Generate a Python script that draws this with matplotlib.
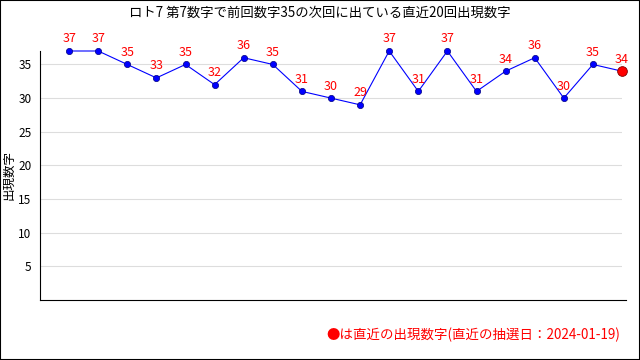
import matplotlib.pyplot as plt
from matplotlib.patches import Rectangle

plt.rcParams['font.family'] = ['Noto Sans CJK JP', 'DejaVu Sans']

title = "ロト7 第7数字で前回数字35の次回に出ている直近20回出現数字"
ylabel = "出現数字"
footer = "●は直近の出現数字(直近の抽選日：2024-01-19)"
values = [37, 37, 35, 33, 35, 32, 36, 35, 31, 30, 29, 37, 31, 37, 31, 34, 36, 30, 35, 34]
yticks = [5, 10, 15, 20, 25, 30, 35]

fig = plt.figure(figsize=(6.4, 3.6), dpi=100)
fig.patches.append(Rectangle((0, 0), 1, 1, transform=fig.transFigure,
                             fill=False, edgecolor='black', linewidth=1.5))
ax = fig.add_axes([40 / 640, 1 - 300 / 360, 582 / 640, 249 / 360])

x = list(range(len(values)))
ax.plot(x, values, color='blue', linewidth=0.8, zorder=3, clip_on=False)
ax.plot(x[:-1], values[:-1], 'o', color='blue', markersize=4.5,
        markeredgecolor='#000080', markeredgewidth=0.5, zorder=4, clip_on=False)
ax.plot(x[-1], values[-1], 'o', color='red', markersize=7,
        markeredgecolor='#800000', markeredgewidth=0.6, zorder=5, clip_on=False)
for xi, v in zip(x, values):
    ax.annotate(str(v), (xi, v), xytext=(0, 4), textcoords='offset points',
                ha='center', va='bottom', color='red', fontsize=9)

ax.set_xlim(-1, len(values) - 1)
ax.set_ylim(0, 37)
ax.set_yticks(yticks)
ax.set_xticks([])
ax.tick_params(axis='y', length=0, labelsize=8.5, pad=6)
ax.grid(axis='y', color='#dddddd', linewidth=0.8)
ax.set_axisbelow(True)
for s in ['top', 'right']:
    ax.spines[s].set_visible(False)
ax.spines['left'].set_linewidth(0.8)
ax.spines['bottom'].set_linewidth(0.8)
ax.spines['bottom'].set_bounds(-1, len(values) - 0.85)

ax.set_ylabel(ylabel, fontsize=9, labelpad=2)
fig.text(0.5, 1 - 13 / 360, title, ha='center', va='center', fontsize=9.6)
fig.text(620 / 640, 1 - 335 / 360, footer, ha='right', va='center', color='red', fontsize=9.7)

fig.savefig('out.png', dpi=100)
